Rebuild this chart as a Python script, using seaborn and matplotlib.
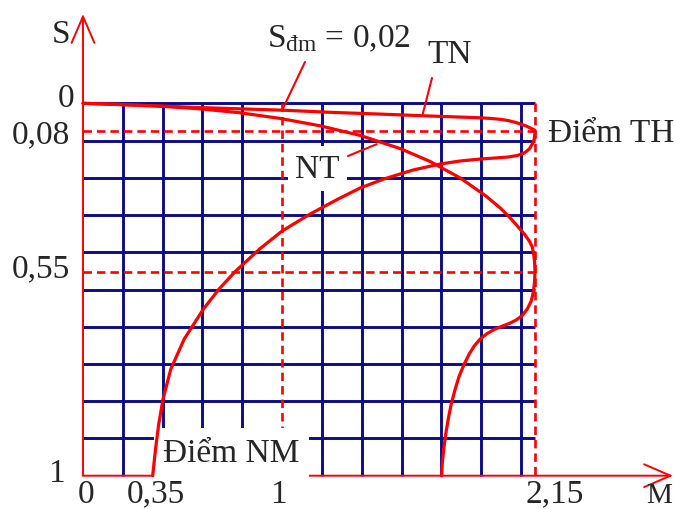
import numpy as np
import matplotlib
matplotlib.use("Agg")
import matplotlib.pyplot as plt
import seaborn as sns

# ---- torque M (p.u.) versus slip S ----
# natural characteristic TN: rated point, critical point TH, starting point NM
tn_m = [0.0, 0.3367, 0.5879, 1.0, 1.218, 1.446, 1.673, 1.901, 1.9466, 1.992,
        2.0284, 2.0603, 2.0876, 2.1149, 2.1331, 2.1468, 2.15,
        2.1494, 2.1468, 2.1377, 2.1241, 2.1014, 2.0694, 2.0284, 1.9693, 1.901,
        1.810, 1.719, 1.596, 1.4642, 1.355, 1.2548, 1.1274, 1.0, 0.8869, 0.7638,
        0.6834, 0.605, 0.5085, 0.4412, 0.402, 0.3804, 0.3643, 0.35]
tn_s = [0.0, 0.007, 0.0125, 0.02, 0.0263, 0.0315, 0.0371, 0.0423, 0.0441, 0.0467,
        0.0505, 0.0555, 0.061, 0.0677, 0.0736, 0.0779, 0.08,
        0.0909, 0.1077, 0.1243, 0.141, 0.1544, 0.1627, 0.1677, 0.171, 0.1744,
        0.181, 0.191, 0.211, 0.2407, 0.271, 0.3078, 0.3579, 0.4145, 0.4745, 0.55,
        0.5883, 0.6324, 0.6985, 0.7647, 0.8308, 0.8859, 0.941, 1.0]

# artificial characteristic NT (added rotor resistance)
nt_m = [0.0, 0.1859, 0.3869, 0.5879, 0.7889, 0.9899, 1.1729, 1.355, 1.537, 1.6734,
        1.81, 1.9238, 1.992, 2.0375, 2.0739, 2.1012, 2.124, 2.1377, 2.1446, 2.1485,
        2.15, 2.1485, 2.1436, 2.1331, 2.1149, 2.0922, 2.0649, 2.033, 1.9966, 1.9647,
        1.9329, 1.901, 1.8737, 1.851, 1.8283, 1.8055, 1.7873, 1.7691, 1.7554, 1.7441,
        1.735, 1.7281, 1.7259]
nt_s = [0.0, 0.0032, 0.0085, 0.0161, 0.0277, 0.0441, 0.0657, 0.0957, 0.1396, 0.1827,
        0.2377, 0.2961, 0.3377, 0.3711, 0.4012, 0.4244, 0.4478, 0.4679, 0.4945, 0.5212,
        0.55, 0.5685, 0.5927, 0.6148, 0.6324, 0.6467, 0.6566, 0.6643, 0.671, 0.6776,
        0.6864, 0.6985, 0.7139, 0.7316, 0.7537, 0.7801, 0.8088, 0.8419, 0.875, 0.908,
        0.9411, 0.9742, 1.0]

M_DM, S_DM = 1.0, 0.02      # rated torque / rated slip
M_TH, S_TH = 2.15, 0.08     # critical point of TN
S_TH_NT = 0.55              # critical slip of NT
M_NM = 0.35                 # starting torque

m_ticks = [0, M_NM, M_DM, M_TH]
m_tick_labels = ["0", "0,35", "1", "2,15"]
s_ticks = [0, S_TH, S_TH_NT, 1]
s_tick_labels = ["0", "0,08", "0,55", "1"]

# schematic (piecewise-linear) axes: value knots -> drawing position
M_KNOTS, M_SCREEN = [0.0, 1.0, 2.15], [0.0, 1.0, 2.27]
S_KNOTS, S_SCREEN = [0.0, 0.08, 0.55, 1.0], [0.0, 0.0736, 0.452, 1.0]


def piecewise(src, dst):
    src = np.asarray(src, float)
    dst = np.asarray(dst, float)
    lo = (dst[1] - dst[0]) / (src[1] - src[0])
    hi = (dst[-1] - dst[-2]) / (src[-1] - src[-2])

    def f(v):
        v = np.asarray(v, float)
        out = np.interp(v, src, dst)
        out = np.where(v < src[0], dst[0] + (v - src[0]) * lo, out)
        out = np.where(v > src[-1], dst[-1] + (v - src[-1]) * hi, out)
        return out
    return f


fx, ix = piecewise(M_KNOTS, M_SCREEN), piecewise(M_SCREEN, M_KNOTS)
fy, iy = piecewise(S_KNOTS, S_SCREEN), piecewise(S_SCREEN, S_KNOTS)

sns.set_theme(style="white")
plt.rcParams["font.family"] = ["Liberation Serif", "DejaVu Serif"]
plt.rcParams["mathtext.fontset"] = "custom"
plt.rcParams["mathtext.rm"] = "Liberation Serif"

RED = "#ff0000"
NAVY = "#0c0c87"
FS = 24
W, H = 675, 510

fig = plt.figure(figsize=(W / 100, H / 100), dpi=100)
fig.patch.set_facecolor("white")
ax = fig.add_axes([83 / W, 33.3 / H, 452 / W, 372.4 / H])
ax.set_xscale("function", functions=(fx, ix))
ax.set_yscale("function", functions=(fy, iy))
ax.set_axis_off()


def fig_xy(x, y):
    return (x / W, 1 - y / H)


# grid: 0.2 steps along M, 0.1 steps along S (drawing units)
for k in range(1, 12):
    if k == 5:
        continue
    ax.axvline(float(ix(0.2 * k)), color=NAVY, lw=2.1, zorder=1, clip_on=False,
               solid_capstyle="butt")
for k in range(0, 10):
    ax.axhline(float(iy(0.1 * k)), color=NAVY, lw=2.1, zorder=1, clip_on=False,
               solid_capstyle="butt")

# dashed reference lines
dash = dict(color=RED, lw=1.9, ls=(0, (3.2, 1.9)), zorder=3, clip_on=False)
ax.plot([0, M_TH], [S_TH, S_TH], **dash)
ax.plot([0, M_TH], [S_TH_NT, S_TH_NT], **dash)
ax.plot([M_TH, M_TH], [0, 1], **dash)
ax.plot([M_DM, M_DM], [0, 1], **dash)

# axes with open arrow heads
arrow = dict(arrowstyle="->,head_length=0.95,head_width=0.41", color=RED, lw=1.4,
             shrinkA=0, shrinkB=0, mutation_scale=20)
ax.annotate("", xy=(590 / 452, 0), xytext=(0, 0), xycoords="axes fraction",
            arrowprops=arrow, annotation_clip=False, zorder=2)
ax.annotate("", xy=(0, 461.7 / 372.4), xytext=(0, 0), xycoords="axes fraction",
            arrowprops=arrow, annotation_clip=False, zorder=2)

# characteristics
line_kw = dict(sort=False, estimator=None, color=RED, lw=2.3, zorder=5,
               clip_on=False, solid_joinstyle="round", ax=ax)
sns.lineplot(x=tn_m, y=tn_s, **line_kw)
sns.lineplot(x=nt_m, y=nt_s, **line_kw)

ax.set_xlim(0, M_TH)
ax.set_ylim(1, 0)

# tick labels
m_dx = [3, 3, -4, 20]
for m, lab, dx in zip(m_ticks, m_tick_labels, m_dx):
    ax.annotate(lab, xy=(m, 1), xytext=(dx, -26), textcoords="offset pixels",
                ha="center", va="baseline", fontsize=FS, annotation_clip=False)
s_dx = [-9, -13, -13, -18]
s_dy = [3, 11.6, 4.3, 5]
for s, lab, dx, dy in zip(s_ticks, s_tick_labels, s_dx, s_dy):
    ax.annotate(lab, xy=(0, s), xytext=(dx, -dy), textcoords="offset pixels",
                ha="right", va="baseline", fontsize=FS, annotation_clip=False)

fig.text(*fig_xy(61, 43), "S", fontsize=FS, ha="center", va="baseline")
fig.text(*fig_xy(659, 503), "M", fontsize=21, ha="center", va="baseline")

# point labels
ax.annotate("Điểm TH", xy=(M_TH, S_TH), xytext=(13, -10.3), textcoords="offset pixels",
            ha="left", va="baseline", fontsize=FS, annotation_clip=False)
ax.annotate("Điểm NM", xy=(M_NM, 1), xytext=(10.3, 14.7), textcoords="offset pixels",
            ha="left", va="baseline", fontsize=FS, annotation_clip=False, zorder=4,
            bbox=dict(boxstyle="square,pad=0.28", fc="white", ec="none"))

# curve names and leaders
lead = dict(arrowstyle="-", color=RED, lw=1.5, shrinkA=0, shrinkB=0)
fig.text(*fig_xy(295, 178), "NT", fontsize=FS, ha="left", va="baseline", zorder=4,
         bbox=dict(boxstyle="square,pad=0.22", fc="white", ec="none"))
ax.annotate("", xy=(1.43, 0.125), xytext=fig_xy(348, 157), textcoords="figure fraction",
            arrowprops=lead, annotation_clip=False, zorder=5)
fig.text(*fig_xy(427, 63), "TN", fontsize=FS, ha="left", va="baseline")
ax.annotate("", xy=(1.64, 0.03), xytext=fig_xy(432, 79), textcoords="figure fraction",
            arrowprops=lead, annotation_clip=False, zorder=5)
fig.text(*fig_xy(267, 47), r"$\mathregular{S_{đm}}$ = 0,02", fontsize=FS,
         ha="left", va="baseline")
ax.annotate("", xy=(M_DM, S_DM), xytext=fig_xy(305, 63), textcoords="figure fraction",
            arrowprops=lead, annotation_clip=False, zorder=5)

fig.savefig("out.png", dpi=100)
